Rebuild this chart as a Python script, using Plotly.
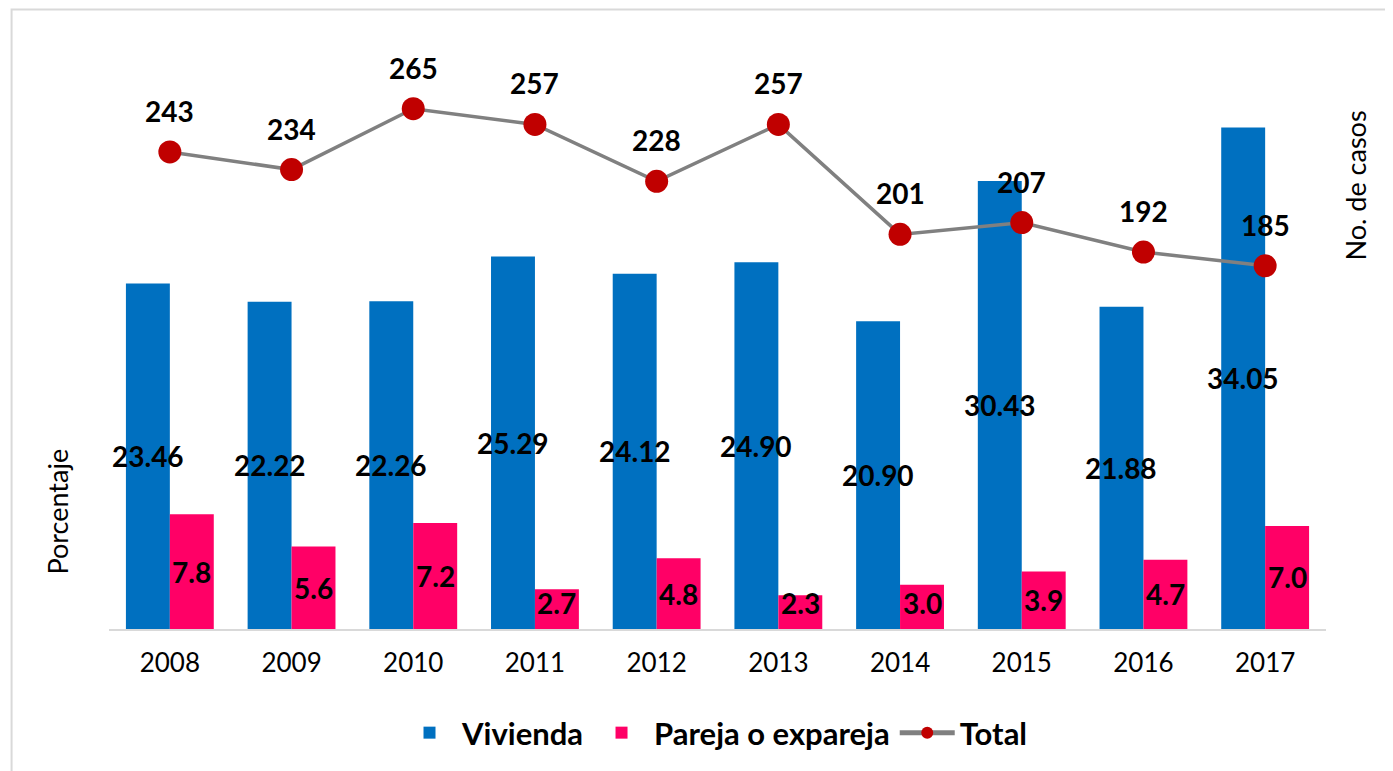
import plotly.graph_objects as go

years = ["2008", "2009", "2010", "2011", "2012", "2013", "2014", "2015", "2016", "2017"]
vivienda = [23.46, 22.22, 22.26, 25.29, 24.12, 24.90, 20.90, 30.43, 21.88, 34.05]
pareja = [7.8, 5.6, 7.2, 2.7, 4.8, 2.3, 3.0, 3.9, 4.7, 7.0]
total = [243, 234, 265, 257, 228, 257, 201, 207, 192, 185]

xpos = list(range(len(years)))

BLUE = "#0070C0"
PINK = "#FF0066"
RED = "#C00000"
GRAY = "#808080"
FONT = "Lato"

# plot area in reference pixels
PL, PR, PT, PB = 108.5, 1326.5, 40, 629
PW, PH = PR - PL, PB - PT
OFF = 8  # default body margin of the html page


def px(x):
    return (x - PL) / PW


def py(y):
    return (PB - y) / PH


fig = go.Figure()
fig.add_trace(go.Bar(x=xpos, y=vivienda, name="Vivienda", marker=dict(color=BLUE, line=dict(width=0))))
fig.add_trace(go.Bar(x=xpos, y=pareja, name="Pareja o expareja", marker=dict(color=PINK, line=dict(width=0))))
fig.add_trace(go.Scatter(x=xpos, y=total, name="Total", yaxis="y2", mode="lines+markers",
                         line=dict(color=GRAY, width=3.5),
                         marker=dict(color=RED, size=23)))

ann = []
for xp, v in zip(xpos, vivienda):
    ann.append(dict(x=xp, y=v / 2, xref="x", yref="y", text=f"{v:.2f}", showarrow=False,
                    xanchor="center", yanchor="middle",
                    xshift=-22, font=dict(family=FONT, size=28, color="black", weight="bold")))
for xp, v in zip(xpos, pareja):
    ann.append(dict(x=xp, y=max(v / 2, 1.75), xref="x", yref="y", text=f"{v:.1f}", showarrow=False,
                    xanchor="center", yanchor="middle",
                    xshift=22, font=dict(family=FONT, size=28, color="black", weight="bold")))
for xp, v in zip(xpos, total):
    ann.append(dict(x=xp, y=v, xref="x", yref="y2", text=f"{v}", showarrow=False,
                    xanchor="center", yanchor="middle",
                    yshift=41, font=dict(family=FONT, size=28, color="black", weight="bold")))
ann.append(dict(x=px(56), y=py(512), xref="paper", yref="paper", text="Porcentaje",
                xanchor="center", yanchor="middle",
                textangle=-90, showarrow=False, font=dict(family=FONT, size=27, color="black")))
ann.append(dict(x=px(1356), y=py(185), xref="paper", yref="paper", text="No. de casos",
                xanchor="center", yanchor="middle",
                textangle=-90, showarrow=False, font=dict(family=FONT, size=27, color="black")))

fig.update_layout(
    width=1393, height=771,
    margin=dict(l=PL - OFF, r=1393 - PR + OFF, t=PT - OFF, b=771 - PB + OFF, pad=0),
    paper_bgcolor="white", plot_bgcolor="white",
    barmode="group", bargap=0.278, bargroupgap=0,
    showlegend=True,
    legend=dict(orientation="h", x=px(715), xanchor="center", y=py(733), yanchor="middle",
                font=dict(family=FONT, size=31, color="black", weight="bold"),
                itemsizing="constant", tracegroupgap=0, itemwidth=55),
    xaxis=dict(range=[-0.5, len(years) - 0.5], tickmode="array", tickvals=xpos, ticktext=years,
               showgrid=False, zeroline=False, showline=True, linecolor="#D9D9D9", linewidth=2,
               ticks="", ticklabelstandoff=10, tickfont=dict(family=FONT, size=26, color="black")),
    yaxis=dict(range=[0, 40], showgrid=False, showticklabels=False, zeroline=False, showline=False),
    yaxis2=dict(range=[0, 300], overlaying="y", side="right", showgrid=False, showticklabels=False,
                zeroline=False, showline=False),
    annotations=ann,
    shapes=[dict(type="rect", xref="paper", yref="paper",
                 x0=px(11), x1=px(1460), y0=py(800), y1=py(9.5),
                 line=dict(color="#D9D9D9", width=2), fillcolor="rgba(0,0,0,0)", layer="below")],
)

fig.write_html("out.html")
